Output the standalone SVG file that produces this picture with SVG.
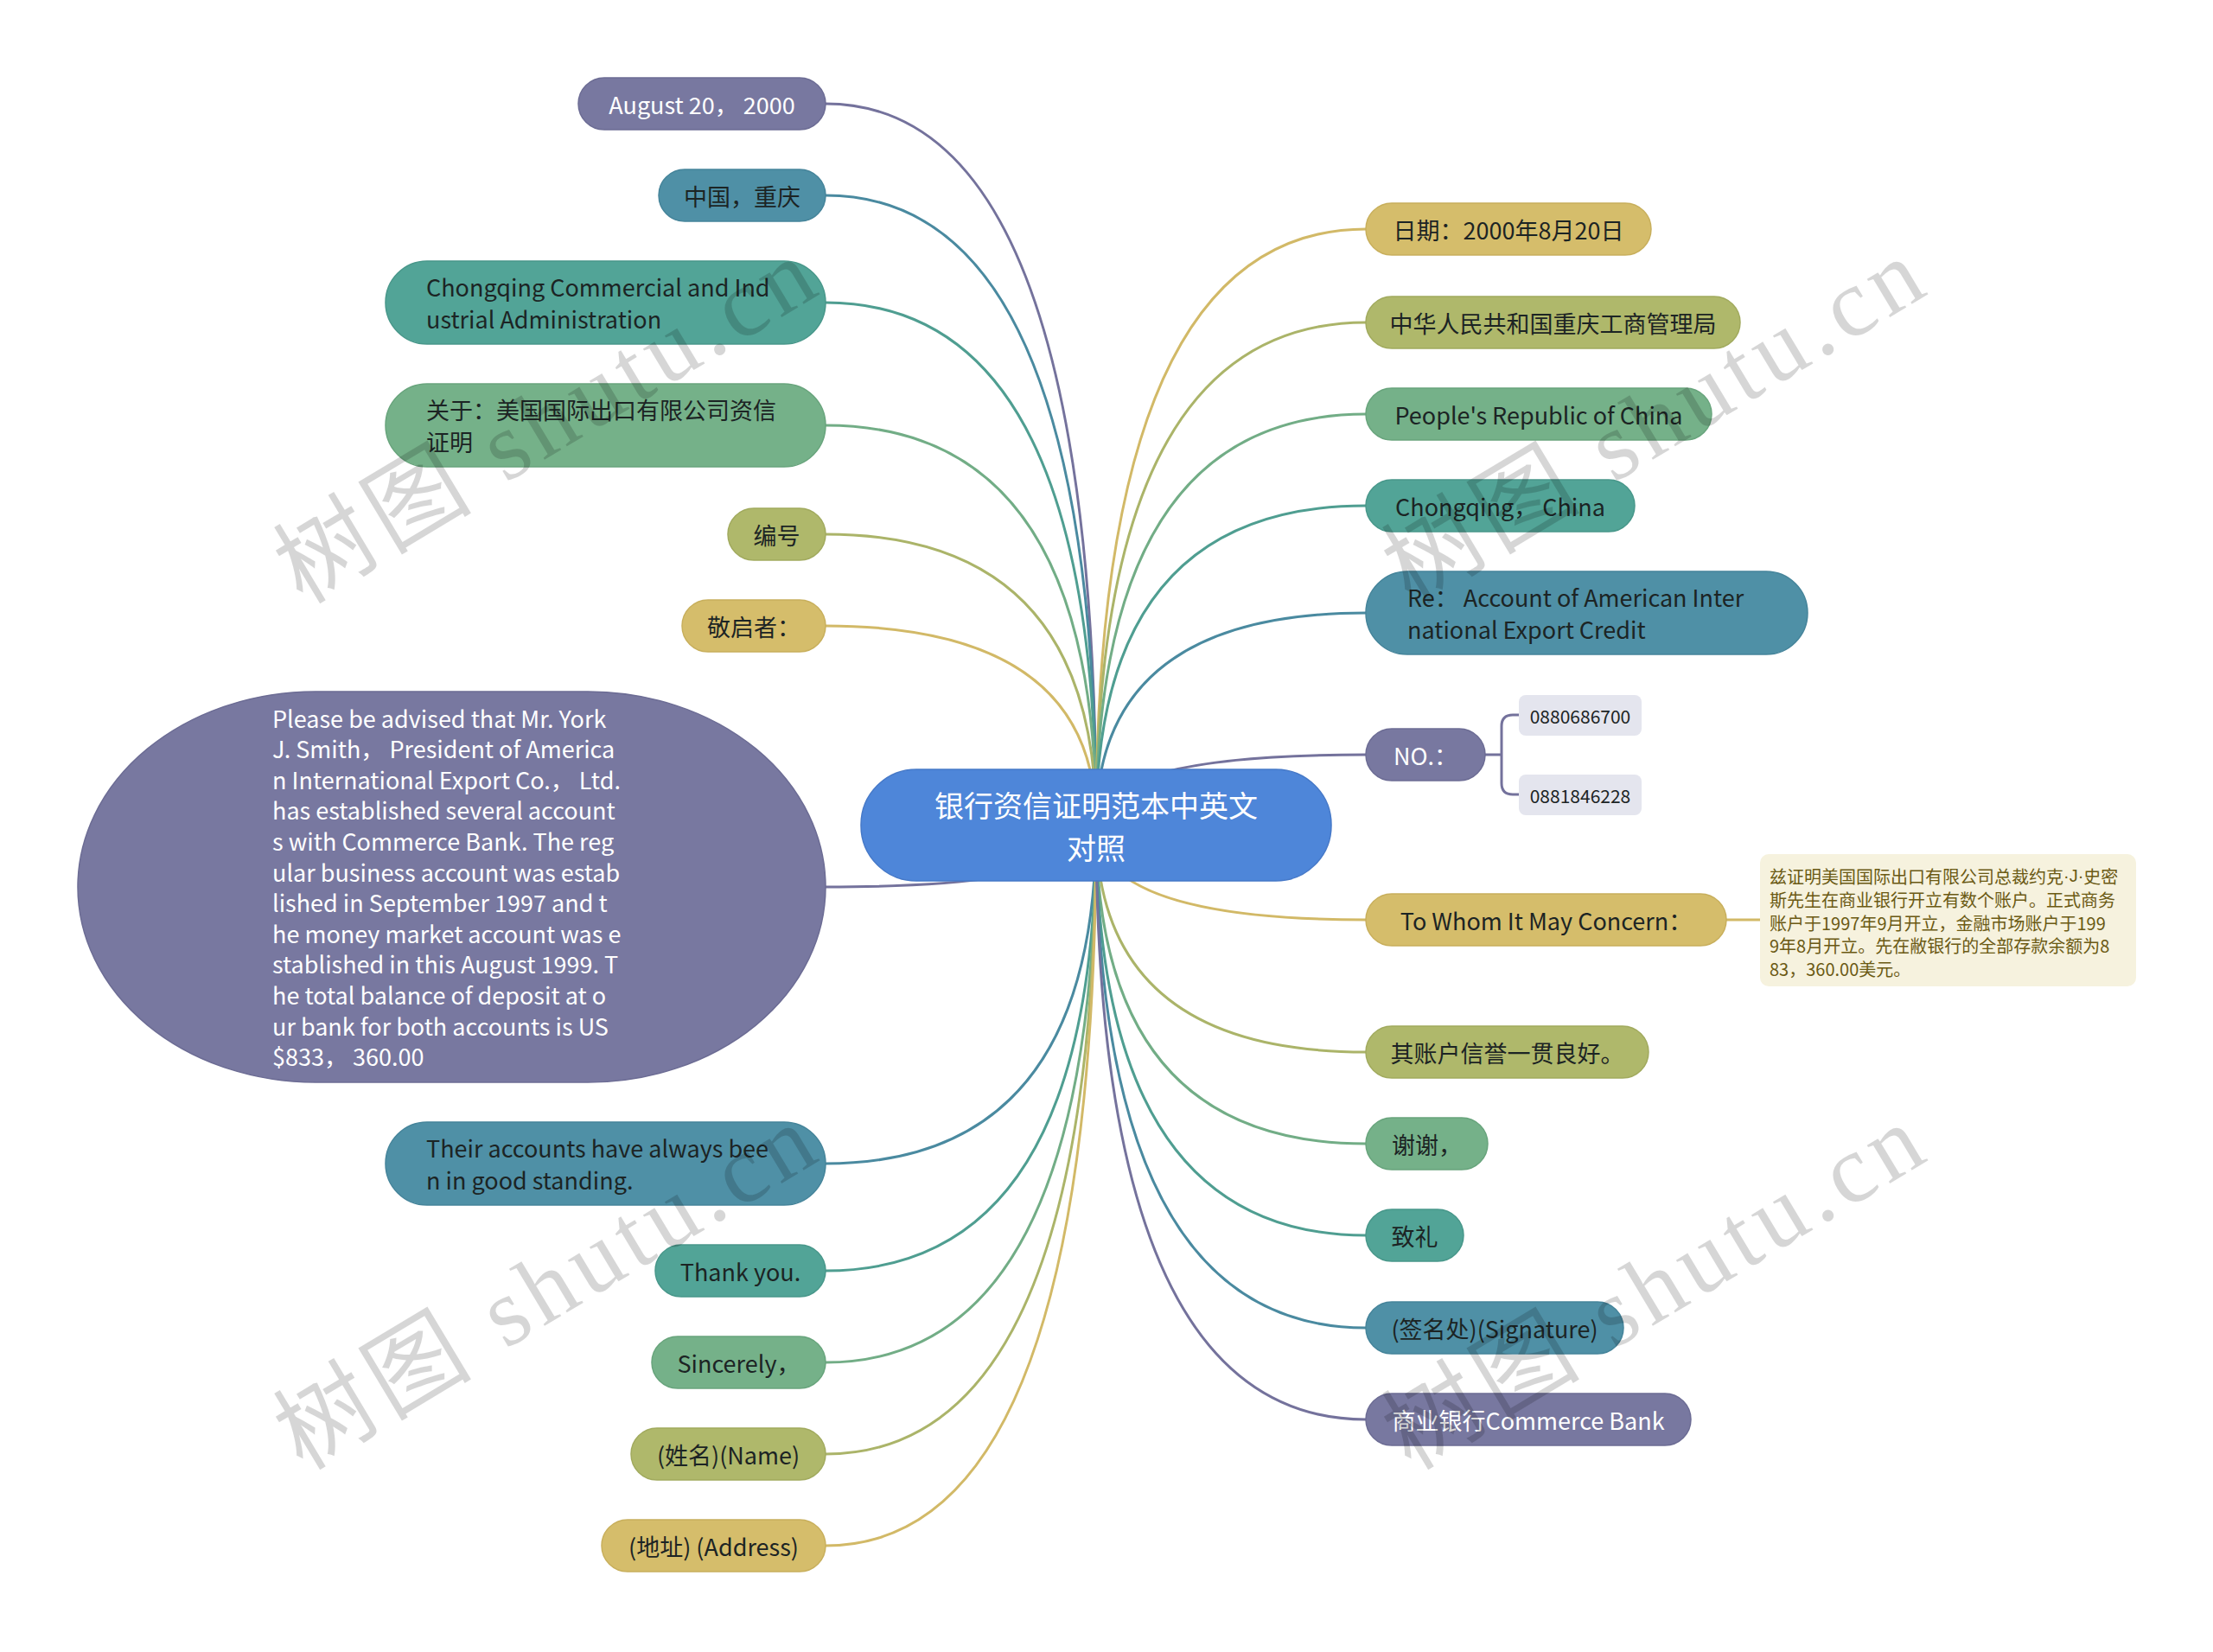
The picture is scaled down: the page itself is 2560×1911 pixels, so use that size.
<svg xmlns="http://www.w3.org/2000/svg" width="2560" height="1911" viewBox="0 0 2560 1911">
<style>
text{font-family:"Noto Sans CJK SC","Noto Sans",sans-serif;font-size:27px;dominant-baseline:central}
.d{fill:#1c2424}
.w{fill:#ffffff}
.m{text-anchor:middle}
.pu{fill:#7878a0;stroke:#6c6c94;stroke-width:1.5}
.tb{fill:#4f90a6;stroke:#45849a;stroke-width:1.5}
.tg{fill:#52a497;stroke:#48978a;stroke-width:1.5}
.gr{fill:#75b189;stroke:#68a47c;stroke-width:1.5}
.ol{fill:#afb86b;stroke:#a1aa5e;stroke-width:1.5}
.go{fill:#d5bd6b;stroke:#c8af5c;stroke-width:1.5}
#connectors path{fill:none;stroke-width:3}
.cpu{stroke:#74729c}.ctb{stroke:#4a8aa0}.ctg{stroke:#4f9e91}.cgr{stroke:#72ad86}.col{stroke:#abb469}.cgo{stroke:#d2b967}
.nt{font-size:20px;fill:#6b5a14}
.wm{font-family:"Liberation Serif","Noto Sans CJK SC",serif;font-size:112px;fill:#000;fill-opacity:0.16;dominant-baseline:auto}
</style>
<rect width="2560" height="1911" fill="#ffffff"/>
<g id="connectors">
<path class="cpu" d="M1268,954 Q1268,120 955,120"/>
<path class="ctb" d="M1268,954 Q1268,226 955,226"/>
<path class="ctg" d="M1268,954 Q1268,350 955,350"/>
<path class="cgr" d="M1268,954 Q1268,492 955,492"/>
<path class="col" d="M1268,954 Q1268,618 955,618"/>
<path class="cgo" d="M1268,954 Q1268,724 955,724"/>
<path class="cpu" d="M1268,954 Q1268,1026 955,1026"/>
<path class="ctb" d="M1268,954 Q1268,1346 955,1346"/>
<path class="ctg" d="M1268,954 Q1268,1470 955,1470"/>
<path class="cgr" d="M1268,954 Q1268,1576 955,1576"/>
<path class="col" d="M1268,954 Q1268,1682 955,1682"/>
<path class="cgo" d="M1268,954 Q1268,1788 955,1788"/>
<path class="cgo" d="M1268,954 Q1268,265 1580,265"/>
<path class="col" d="M1268,954 Q1268,373 1580,373"/>
<path class="cgr" d="M1268,954 Q1268,479 1580,479"/>
<path class="ctg" d="M1268,954 Q1268,585 1580,585"/>
<path class="ctb" d="M1268,954 Q1268,709 1580,709"/>
<path class="cpu" d="M1268,954 Q1268,873 1580,873"/>
<path class="cgo" d="M1268,954 Q1268,1064 1580,1064"/>
<path class="col" d="M1268,954 Q1268,1217 1580,1217"/>
<path class="cgr" d="M1268,954 Q1268,1323 1580,1323"/>
<path class="ctg" d="M1268,954 Q1268,1429 1580,1429"/>
<path class="ctb" d="M1268,954 Q1268,1536 1580,1536"/>
<path class="cpu" d="M1268,954 Q1268,1642 1580,1642"/>
<path class="cpu" d="M1718,873 H1737 M1737,873 V840 Q1737,827 1750,827 H1757 M1737,873 V906 Q1737,919 1750,919 H1757"/>
<path class="cgo" d="M1997,1064 H2036"/>
</g>
<g id="center">
<rect x="996" y="890" width="544" height="129" rx="64" fill="#4e86d9" stroke="#4679c8" stroke-width="1.5"/>
<text class="w m" x="1268" y="930" style="font-size:34px">银行资信证明范本中英文</text>
<text class="w m" x="1268" y="979" style="font-size:34px">对照</text>
</g>
<g id="n-august"><rect class="pu" x="669" y="90" width="286" height="60" rx="30"/><text class="w m" x="812" y="120">August 20， 2000</text></g>
<g id="n-cq"><rect class="tb" x="762" y="196" width="193" height="60" rx="30"/><text class="d m" x="858.5" y="226">中国，重庆</text></g>
<g id="n-cqcia"><rect class="tg" x="446" y="302" width="509" height="96" rx="48"/><text class="d" x="493" y="331">Chongqing Commercial and Ind</text><text class="d" x="493" y="368">ustrial Administration</text></g>
<g id="n-about"><rect class="gr" x="446" y="444" width="509" height="96" rx="48"/><text class="d" x="493" y="473">关于：美国国际出口有限公司资信</text><text class="d" x="493" y="510">证明</text></g>
<g id="n-bianhao"><rect class="ol" x="842" y="588" width="113" height="60" rx="30"/><text class="d m" x="898.5" y="618">编号</text></g>
<g id="n-jingqi"><rect class="go" x="789" y="694" width="166" height="60" rx="30"/><text class="d m" x="872" y="724">敬启者：</text></g>
<g id="n-please"><rect class="pu" x="90" y="800" width="865" height="452" rx="275" ry="226"/>
<text class="w" x="315" y="830">Please be advised that Mr. York</text>
<text class="w" x="315" y="865.6">J. Smith， President of America</text>
<text class="w" x="315" y="901.2">n International Export Co.， Ltd.</text>
<text class="w" x="315" y="936.8"> has established several account</text>
<text class="w" x="315" y="972.4">s with Commerce Bank. The reg</text>
<text class="w" x="315" y="1008">ular business account was estab</text>
<text class="w" x="315" y="1043.6">lished in September 1997 and t</text>
<text class="w" x="315" y="1079.2">he money market account was e</text>
<text class="w" x="315" y="1114.8">stablished in this August 1999. T</text>
<text class="w" x="315" y="1150.4">he total balance of deposit at o</text>
<text class="w" x="315" y="1186">ur bank for both accounts is US</text>
<text class="w" x="315" y="1221.6">$833， 360.00</text>
</g>
<g id="n-their"><rect class="tb" x="446" y="1298" width="509" height="96" rx="48"/><text class="d" x="493" y="1327">Their accounts have always bee</text><text class="d" x="493" y="1364">n in good standing.</text></g>
<g id="n-thank"><rect class="tg" x="758" y="1440" width="197" height="60" rx="30"/><text class="d m" x="856.5" y="1470">Thank you.</text></g>
<g id="n-sincerely"><rect class="gr" x="754" y="1546" width="201" height="60" rx="30"/><text class="d m" x="854.5" y="1576">Sincerely，</text></g>
<g id="n-name"><rect class="ol" x="730" y="1652" width="225" height="60" rx="30"/><text class="d m" x="842.5" y="1682">(姓名)(Name)</text></g>
<g id="n-address"><rect class="go" x="696" y="1758" width="259" height="60" rx="30"/><text class="d m" x="825.5" y="1788">(地址) (Address)</text></g>
<g id="n-date"><rect class="go" x="1580" y="235" width="330" height="60" rx="30"/><text class="d m" x="1745" y="265">日期：2000年8月20日</text></g>
<g id="n-prc-cq"><rect class="ol" x="1580" y="343" width="433" height="60" rx="30"/><text class="d m" x="1796.5" y="373">中华人民共和国重庆工商管理局</text></g>
<g id="n-prc"><rect class="gr" x="1580" y="449" width="400" height="60" rx="30"/><text class="d m" x="1780" y="479">People's Republic of China</text></g>
<g id="n-cqchina"><rect class="tg" x="1580" y="555" width="311" height="60" rx="30"/><text class="d m" x="1735.5" y="585">Chongqing， China</text></g>
<g id="n-re"><rect class="tb" x="1580" y="661" width="511" height="96" rx="48"/><text class="d" x="1628" y="690">Re： Account of American Inter</text><text class="d" x="1628" y="727">national Export Credit</text></g>
<g id="n-no"><rect class="pu" x="1580" y="843" width="138" height="60" rx="30"/><text class="w m" x="1649" y="873">NO.：</text></g>
<g id="n-no1"><rect x="1757" y="804" width="142" height="47" rx="8" fill="#e4e5ee"/><text class="d m" x="1828" y="827.5" style="font-size:21px">0880686700</text></g>
<g id="n-no2"><rect x="1757" y="896" width="142" height="47" rx="8" fill="#e4e5ee"/><text class="d m" x="1828" y="919.5" style="font-size:21px">0881846228</text></g>
<g id="n-towhom"><rect class="go" x="1580" y="1034" width="417" height="60" rx="30"/><text class="d m" x="1788.5" y="1064">To Whom It May Concern：</text></g>
<g id="n-note"><rect x="2036" y="988" width="435" height="153" rx="10" fill="#f6f2de"/>
<text class="nt" x="2047" y="1013">兹证明美国国际出口有限公司总裁约克<tspan style="font-family:'Liberation Sans',sans-serif">·J·</tspan>史密</text>
<text class="nt" x="2047" y="1040">斯先生在商业银行开立有数个账户。正式商务</text>
<text class="nt" x="2047" y="1067">账户于1997年9月开立，金融市场账户于199</text>
<text class="nt" x="2047" y="1093">9年8月开立。先在敝银行的全部存款余额为8</text>
<text class="nt" x="2047" y="1120">83，360.00美元。</text>
</g>
<g id="n-good"><rect class="ol" x="1580" y="1187" width="327" height="60" rx="30"/><text class="d m" x="1743.5" y="1217">其账户信誉一贯良好。</text></g>
<g id="n-xiexie"><rect class="gr" x="1580" y="1293" width="141" height="60" rx="30"/><text class="d m" x="1650.5" y="1323">谢谢，</text></g>
<g id="n-zhili"><rect class="tg" x="1580" y="1399" width="113" height="60" rx="30"/><text class="d m" x="1636.5" y="1429">致礼</text></g>
<g id="n-sign"><rect class="tb" x="1580" y="1506" width="298" height="60" rx="30"/><text class="d m" x="1729" y="1536">(签名处)(Signature)</text></g>
<g id="n-bank"><rect class="pu" x="1580" y="1612" width="376" height="60" rx="30"/><text class="w m" x="1768" y="1642">商业银行Commerce Bank</text></g>
<g id="watermarks">
<text class="wm" transform="translate(350,700) rotate(-31)" textLength="700" lengthAdjust="spacing">树图 shutu.cn</text>
<text class="wm" transform="translate(1632,700) rotate(-31)" textLength="700" lengthAdjust="spacing">树图 shutu.cn</text>
<text class="wm" transform="translate(350,1702) rotate(-31)" textLength="700" lengthAdjust="spacing">树图 shutu.cn</text>
<text class="wm" transform="translate(1632,1702) rotate(-31)" textLength="700" lengthAdjust="spacing">树图 shutu.cn</text>
</g>
</svg>
